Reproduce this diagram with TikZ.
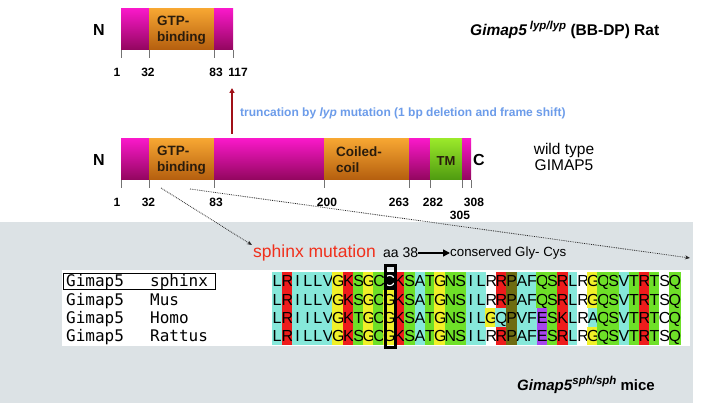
\documentclass[tikz,border=0pt]{standalone}
\usepackage{fontspec}
\setmainfont{Liberation Sans}
\newfontfamily\monofnt{DejaVu Sans Mono}
\usetikzlibrary{arrows.meta}
\definecolor{pinkT}{HTML}{F818C8}
\definecolor{pinkB}{HTML}{92065E}
\definecolor{orT}{HTML}{F6A632}
\definecolor{orB}{HTML}{B45E0E}
\definecolor{grT}{HTML}{9AE82A}
\definecolor{grB}{HTML}{4E9A10}
\definecolor{panel}{HTML}{DCE2E5}
\definecolor{trunc}{HTML}{6C9CEA}
\definecolor{sphred}{HTML}{F0301C}
\definecolor{arrred}{HTML}{A01018}
\definecolor{domtxt}{HTML}{2A1C0C}
\definecolor{alC}{HTML}{86E8DA}
\definecolor{alR}{HTML}{EE1C1C}
\definecolor{alY}{HTML}{F0F028}
\definecolor{alG}{HTML}{6EE028}
\definecolor{alO}{HTML}{6E6C12}
\definecolor{alP}{HTML}{A646EE}
\definecolor{alW}{HTML}{FFFFFF}
\definecolor{alK}{HTML}{000000}
\definecolor{alTC}{HTML}{000000}
\definecolor{alTR}{HTML}{000000}
\definecolor{alTY}{HTML}{000000}
\definecolor{alTG}{HTML}{000000}
\definecolor{alTO}{HTML}{000000}
\definecolor{alTP}{HTML}{000000}
\definecolor{alTW}{HTML}{000000}
\definecolor{alTK}{HTML}{FFFFFF}
\tikzset{
  seg/.style={inner sep=0pt, outer sep=0pt, anchor=north west, minimum height=41pt},
  pinkseg/.style={seg, top color=pinkT, bottom color=pinkB},
  orseg/.style={seg, top color=orT, bottom color=orB},
  grseg/.style={seg, top color=grT, bottom color=grB},
  tickln/.style={draw=gray!90!black, line width=0.6pt},
  num/.style={font=\bfseries\fontsize{12}{14}\selectfont, inner sep=0pt},
  domlab/.style={font=\bfseries\fontsize{13.5}{16}\selectfont, text=domtxt, align=left, anchor=west, inner sep=0pt},
  termlab/.style={font=\bfseries\fontsize{16}{18}\selectfont, inner sep=0pt},
  cell/.style={inner sep=0pt, outer sep=0pt, minimum width=10.45pt, minimum height=18.5pt,
    text height=11.4pt, text depth=0pt, font=\fontsize{16}{16}\selectfont},
  seqlab/.style={font=\monofnt\fontsize{16}{16}\selectfont, anchor=west, inner sep=0pt, text height=11.5pt, text depth=0pt},
  dotcon/.style={densely dotted, line width=0.8pt, draw=black!85, -{Stealth[length=5pt,width=4pt]}},
}
\newcommand\alrow[3]{%
  \foreach \ch/\cl [count=\i from 0] in {#3} {
    \node[cell, fill=al\cl, text=alT\cl] (c#1-\i) at ({277.1+10.2*\i},#2) {\ch};
  }}
\newcommand\supx[1]{\raisebox{5.5pt}{\fontsize{11.5}{12}\selectfont\textit{#1}}}
\begin{document}
\begin{tikzpicture}[x=1pt,y=-1pt]
\useasboundingbox (0,0) rectangle (704,403);
\fill[white] (0,0) rectangle (704,403);
% lower panel
\fill[panel] (0,222) rectangle (693,403);
\fill[white] (62,270) rectangle (690,346);

% ---------- top (truncated) protein ----------
\node[pinkseg, minimum width=28pt] (t1) at (121,9) {};
\node[orseg, minimum width=65pt] (t2) at (149,9) {};
\node[pinkseg, minimum width=19pt] (t3) at (214,9) {};
\foreach \s in {t1,t2,t3} \draw[tickln] (\s.south west) -- ++(0,8);
\draw[tickln] (t3.south east) -- ++(0,8);
\node[domlab] (tgtp) at (157,30) {GTP-\\binding};
\node[termlab] (tN) at (99,30) {N};
\node[num] (tn1) at (117,72) {1};
\node[num] (tn32) at (148,72) {32};
\node[num] (tn83) at (216,72) {83};
\node[num] (tn117) at (238,72) {117};
\node[font=\bfseries\fontsize{15.5}{17}\selectfont, anchor=west, inner sep=0pt] (title) at (470,30)
  {\textit{Gimap5}\,\supx{lyp/lyp} (BB-DP) Rat};

% ---------- truncation arrow ----------
\coordinate (arrS) at (232,134);
\coordinate (arrE) at (232,88);
\draw[arrred, line width=1.4pt, -{Triangle[length=5pt,width=5pt]}] (arrS) -- (arrE);
\node[font=\bfseries\fontsize{12}{14}\selectfont, text=trunc, anchor=west, inner sep=0pt] (trunc) at (240,113)
  {truncation by \textit{lyp} mutation (1 bp deletion and frame shift)};

% ---------- wild type protein ----------
\node[pinkseg, minimum width=28pt] (m1) at (121,139) {};
\node[orseg, minimum width=65pt] (m2) at (149,139) {};
\node[pinkseg, minimum width=110pt] (m3) at (214,139) {};
\node[orseg, minimum width=85pt] (m4) at (324,139) {};
\node[pinkseg, minimum width=21pt] (m5) at (409,139) {};
\node[grseg, minimum width=32pt] (m6) at (430,139) {};
\node[pinkseg, minimum width=9pt] (m7) at (462,139) {};
\foreach \s in {m1,m2,m3,m4,m5,m6,m7} \draw[tickln] (\s.south west) -- ++(0,8);
\draw[tickln] (m7.south east) -- ++(0,8);
\node[domlab] (mgtp) at (157,160) {GTP-\\binding};
\node[domlab] (mcc) at (336,160) {Coiled-\\coil};
\node[font=\bfseries\fontsize{13}{15}\selectfont, text=domtxt, inner sep=0pt] (mtm) at (446,161) {TM};
\node[termlab] (mN) at (99,160) {N};
\node[termlab] (mC) at (479,160) {C};
\node[num] (mn1) at (117,202) {1};
\node[num] (mn32) at (148.5,202) {32};
\node[num] (mn83) at (216,202) {83};
\node[num] (mn200) at (327,202) {200};
\node[num] (mn263) at (399,202) {263};
\node[num] (mn282) at (433,202) {282};
\node[num] (mn308) at (474,202) {308};
\node[num] (mn305) at (460,215) {305};
\node[font=\fontsize{15.5}{16.5}\selectfont, align=center, inner sep=0pt] (wt) at (564,157) {wild type\\GIMAP5};

% ---------- dotted zoom lines ----------
\coordinate (d1a) at (161,188);
\coordinate (d1b) at (252,245);
\coordinate (d2a) at (190,189);
\coordinate (d2b) at (690,258);
\draw[dotcon] (d1a) -- (d1b);
\draw[dotcon] (d2a) -- (d2b);

% ---------- sphinx mutation line ----------
\node[font=\fontsize{17.5}{19}\selectfont, text=sphred, anchor=west, inner sep=0pt] (sm) at (253,253) {sphinx mutation};
\node[font=\fontsize{14}{17}\selectfont, anchor=west, inner sep=0pt] (aa) at (383,253) {aa 38};
\node[font=\fontsize{13.3}{17}\selectfont, anchor=west, inner sep=0pt] (cg) at (450,253) {conserved Gly- Cys};
\draw[line width=1.5pt, -{Triangle[length=7pt,width=7pt]}] (aa.east) -- (cg.west);

% ---------- alignment ----------
\alrow{1}{281.1}{L/C,R/R,I/C,L/C,L/C,V/C,G/Y,K/R,S/G,G/Y,C/G,C/K,K/R,S/G,A/C,T/G,G/Y,N/G,S/G,I/C,L/C,R/W,R/R,P/O,A/C,F/C,Q/G,S/G,R/R,L/C,R/W,G/Y,Q/G,S/G,V/C,T/G,R/R,T/G,S/W,Q/G}
\alrow{2}{299.4}{L/C,R/R,I/C,L/C,L/C,V/C,G/Y,K/R,S/G,G/Y,C/G,G/Y,K/R,S/G,A/C,T/G,G/Y,N/G,S/G,I/C,L/C,R/W,R/R,P/O,A/C,F/C,Q/G,S/G,R/R,L/C,R/W,G/Y,Q/G,S/G,V/C,T/G,R/R,T/G,S/W,Q/G}
\alrow{3}{317.6}{L/C,R/R,I/C,I/C,L/C,V/C,G/Y,K/R,T/G,G/Y,C/G,G/Y,K/R,S/G,A/C,T/G,G/Y,N/G,S/G,I/C,L/C,G/Y,Q/C,P/O,V/C,F/C,E/P,S/G,K/R,L/C,R/W,A/C,Q/G,S/G,V/C,T/G,R/R,T/G,C/W,Q/G}
\alrow{4}{335.9}{L/C,R/R,I/C,L/C,L/C,V/C,G/Y,K/R,S/G,G/Y,C/G,G/Y,K/R,S/G,A/C,T/G,G/Y,N/G,S/G,I/C,L/C,R/W,R/R,P/O,A/C,F/C,E/P,S/G,R/R,L/C,R/W,G/Y,Q/G,S/G,V/C,T/G,R/R,T/G,S/W,Q/G}
\node[draw=black, line width=2.6pt, inner sep=0pt, minimum width=10.2pt, minimum height=82pt, anchor=north west] (colbox) at (384.2,264) {};

% sequence labels
\node[seqlab] (g1) at (66,281.1) {Gimap5};
\node[seqlab] (s1) at (150,281.1) {sphinx};
\node[seqlab] (g2) at (66,299.4) {Gimap5};
\node[seqlab] (s2) at (150,299.4) {Mus};
\node[seqlab] (g3) at (66,317.6) {Gimap5};
\node[seqlab] (s3) at (150,317.6) {Homo};
\node[seqlab] (g4) at (66,335.9) {Gimap5};
\node[seqlab] (s4) at (150,335.9) {Rattus};
\node[draw=black, line width=1.2pt, inner sep=0pt, minimum width=152pt, minimum height=16pt, anchor=north west] (sbox) at (63,273) {};

% bottom label
\node[font=\bfseries\fontsize{15}{17}\selectfont, anchor=west, inner sep=0pt] (mice) at (517,385)
  {\textit{Gimap5}\supx{sph/sph} mice};
\end{tikzpicture}
\end{document}
